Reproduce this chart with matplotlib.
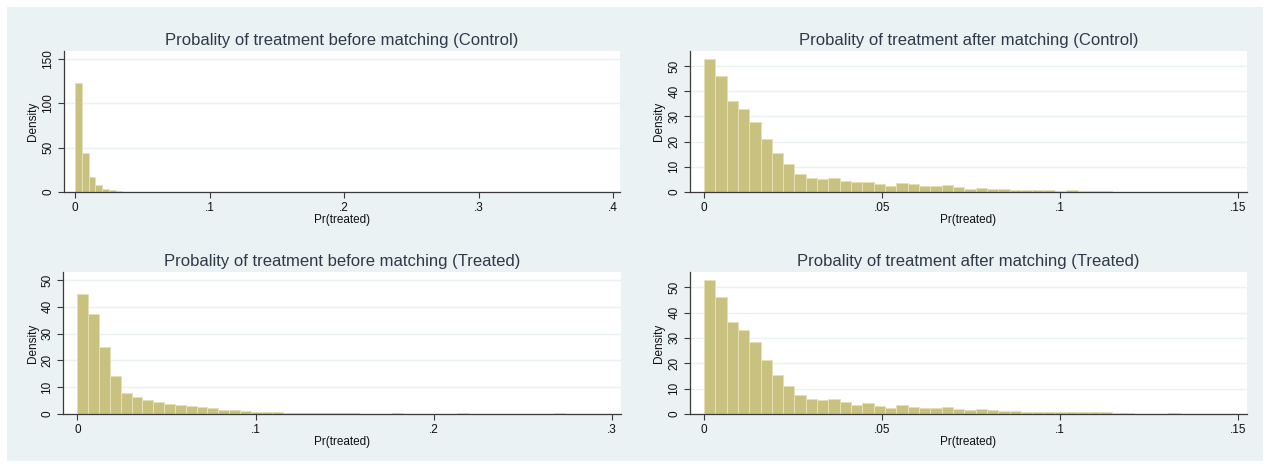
import matplotlib
matplotlib.use("Agg")
import matplotlib.pyplot as plt
import numpy as np
from matplotlib.patches import Rectangle

plt.rcParams['font.family'] = ['Liberation Sans', 'DejaVu Sans']

# bin widths (Pr(treated) units)
width_before_ctrl = 0.00503
width_before_trt = 0.00608
width_after = 0.00318

# densities per bin, starting at 0
dens_before_ctrl = [123, 43.6, 16.5, 7.5, 3.0, 1.9, 0.75]
dens_before_trt = [44.7, 37.3, 25.0, 14.1, 8.0, 6.5, 5.3, 4.6, 3.9, 3.5,
                   2.9, 2.5, 2.1, 1.4, 1.4, 1.0, 0.6, 0.6, 0.6, 0.3,
                   0.3, 0.3, 0.3, 0.2, 0.2, 0.2, 0, 0, 0, 0.3,
                   0, 0, 0, 0, 0, 0.3, 0, 0, 0, 0,
                   0, 0, 0, 0, 0.3]
dens_after_ctrl = [53.0, 46.2, 36.3, 33.1, 28.0, 21.0, 15.3, 11.0, 7.2, 5.7,
                   5.2, 5.7, 4.5, 3.8, 4.1, 3.0, 2.2, 3.7, 3.0, 2.2,
                   2.2, 2.6, 1.8, 1.1, 1.4, 1.1, 1.1, 0.8, 0.8, 0.8,
                   0.8, 0.4, 0.7, 0.4, 0.4, 0.4]
dens_after_trt = [52.9, 46.3, 36.4, 33.2, 28.2, 21.3, 15.5, 11.2, 7.3, 5.8,
                  5.4, 5.8, 4.6, 3.6, 4.3, 3.0, 2.3, 3.5, 2.8, 2.3,
                  2.3, 2.8, 1.9, 1.5, 1.9, 1.5, 1.1, 1.1, 0.7, 0.7,
                  0.7, 0.6, 0.6, 0.6, 0.6, 0.6, 0.3, 0.3, 0, 0,
                  0, 0.3]

titles = ["Probality of treatment before matching (Control)",
          "Probality of treatment after matching (Control)",
          "Probality of treatment before matching (Treated)",
          "Probality of treatment after matching (Treated)"]
xticks_before_ctrl = [0, 0.1, 0.2, 0.3, 0.4]
xticks_before_trt = [0, 0.1, 0.2, 0.3]
xticks_after = [0, 0.05, 0.1, 0.15]
yticks_before_ctrl = [0, 50, 100, 150]
yticks_50 = [0, 10, 20, 30, 40, 50]

BG = '#EAF2F3'
BAR = '#C9C17F'
EDGE = '#E6E1B4'
GRID = '#EAF2F3'
TXT = '#2E3A48'


def fmt(v):
    if v == 0:
        return '0'
    s = ('%g' % v)
    return s[1:] if s.startswith('0.') else s


def hist_panel(ax, dens, w, title, xticks, yticks, xlim, ylim):
    left = np.arange(len(dens)) * w
    ax.bar(left, dens, width=w, align='edge', color=BAR,
           edgecolor=EDGE, linewidth=0.7, zorder=2)
    ax.set_xlim(*xlim)
    ax.set_ylim(*ylim)
    ax.set_xticks(xticks)
    ax.set_xticklabels([fmt(v) for v in xticks])
    ax.set_yticks(yticks)
    ax.set_yticklabels([fmt(v) for v in yticks], rotation=90, va='center')
    ax.yaxis.grid(True, color=GRID, linewidth=1.0, zorder=0)
    ax.set_axisbelow(True)
    for s in ['top', 'right']:
        ax.spines[s].set_visible(False)
    for s in ['left', 'bottom']:
        ax.spines[s].set_color('#3a3a3a')
        ax.spines[s].set_linewidth(0.9)
    ax.tick_params(direction='out', length=4, width=0.8, color='#3a3a3a',
                   labelsize=8.5, labelcolor='#111111', pad=3)
    ax.set_xlabel('Pr(treated)', fontsize=8.5, labelpad=0, color='#111111')
    ax.set_ylabel('Density', fontsize=8.5, labelpad=2, color='#111111')
    ax.set_title(title, fontsize=12, color=TXT, pad=4)


fig = plt.figure(figsize=(12.7, 4.68), dpi=100)
fig.patches.append(Rectangle((7 / 1270, 1 - 461 / 468), 1256 / 1270, 454 / 468,
                             transform=fig.transFigure, facecolor=BG,
                             edgecolor='none', zorder=-10))

W, H = 1270.0, 468.0


def box(x0, x1, y0, y1):
    return [x0 / W, 1 - y1 / H, (x1 - x0) / W, (y1 - y0) / H]


ax1 = fig.add_axes(box(64, 620, 51, 192))
ax2 = fig.add_axes(box(690, 1247, 51, 192))
ax3 = fig.add_axes(box(63, 621, 272, 414))
ax4 = fig.add_axes(box(690, 1247, 272, 414))

hist_panel(ax1, dens_before_ctrl, width_before_ctrl, titles[0],
           xticks_before_ctrl, yticks_before_ctrl, (-0.0082, 0.405), (0, 159))
hist_panel(ax2, dens_after_ctrl, width_after, titles[1],
           xticks_after, yticks_50, (-0.0039, 0.1525), (0, 56))
hist_panel(ax3, dens_before_trt, width_before_trt, titles[2],
           xticks_before_trt, yticks_50, (-0.0081, 0.305), (0, 53))
hist_panel(ax4, dens_after_trt, width_after, titles[3],
           xticks_after, yticks_50, (-0.0039, 0.1525), (0, 56))

fig.savefig('out.png', dpi=100, facecolor='white')
